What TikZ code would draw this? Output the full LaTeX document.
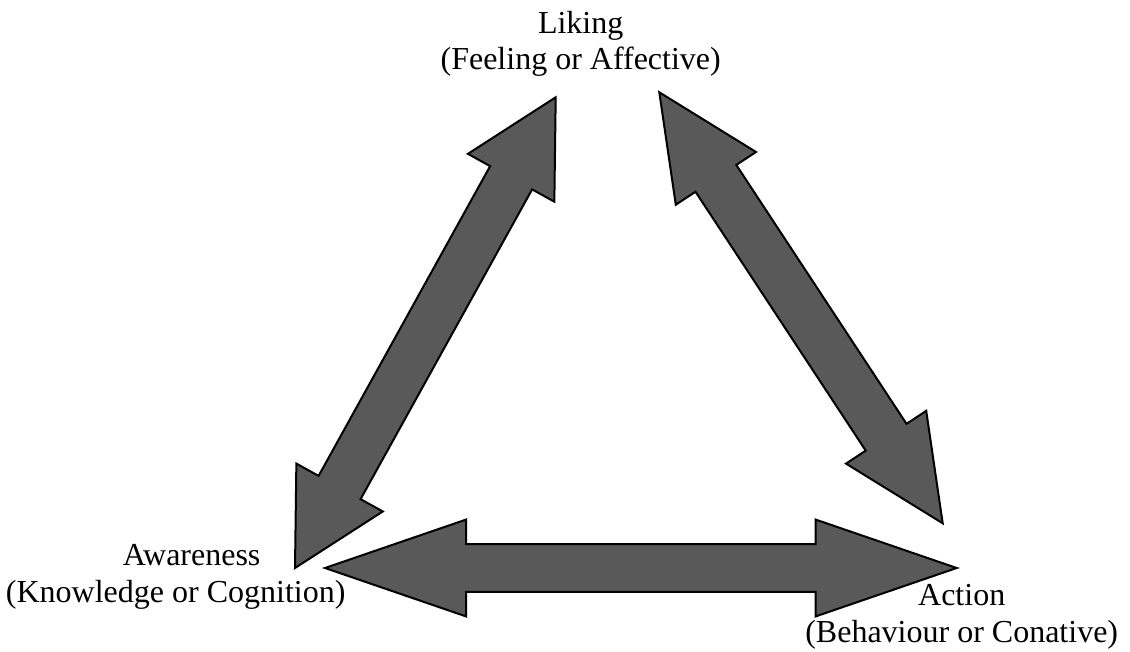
\documentclass[tikz,border=0pt]{standalone}
\usepackage{fontspec}
\setmainfont{Liberation Serif}
\usepackage{tikz}
\usetikzlibrary{calc}
\usepackage{xcolor}
\definecolor{arrowgray}{RGB}{89,89,89}

% fat double arrow: tips #1 #2, head length #3, head half width #4, shaft half width #5
\newcommand{\dblarrow}[5]{%
\path ($(#1)!#3!(#2)$) coordinate (hA) ($(#2)!#3!(#1)$) coordinate (hB);
\draw[blockarrow] (#1) -- ($(hA)!#4!90:(#2)$) -- ($(hA)!#5!90:(#2)$)
  -- ($(hB)!#5!-90:(#1)$) -- ($(hB)!#4!-90:(#1)$) -- (#2)
  -- ($(hB)!#4!90:(#1)$) -- ($(hB)!#5!90:(#1)$)
  -- ($(hA)!#5!-90:(#2)$) -- ($(hA)!#4!-90:(#2)$) -- cycle;
}

\begin{document}
\begin{tikzpicture}[x=0.5pt, y=-0.5pt,
  blockarrow/.style={draw=black, fill=arrowgray, line width=1pt, line join=miter},
  stage/.style={align=center, inner sep=0pt, font=\fontsize{16}{18.4}\selectfont}]
\useasboundingbox (0,0) rectangle (1130,652);
% labels (base = last line)
\node[stage, anchor=base] (liking) at (580.7,70) {Liking\\(Feeling or Affective)};
\node[stage, anchor=base] (aware) at (175.7,602) {\hspace*{1em}Awareness\\(Knowledge or Cognition)};
\node[stage, anchor=base] (action) at (961.7,642) {Action\\(Behaviour or Conative)};
% arrow tips
\coordinate (likeL) at (555.7,97.3);
\coordinate (likeR) at (659.3,92.3);
\coordinate (awUp) at (295,568);
\coordinate (awRight) at (325,568);
\coordinate (acUp) at (942.7,523.3);
\coordinate (acLeft) at (956.7,568);
% arrows
\dblarrow{awUp}{likeL}{46pt}{24.7pt}{12pt}
\dblarrow{likeR}{acUp}{51.5pt}{24pt}{12.2pt}
\dblarrow{awRight}{acLeft}{70.5pt}{24.2pt}{11.9pt}
\end{tikzpicture}
\end{document}
